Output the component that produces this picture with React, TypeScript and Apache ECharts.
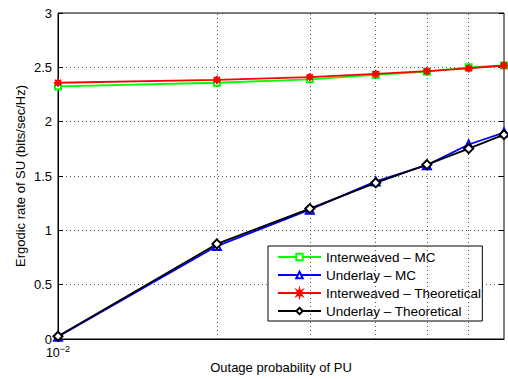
import React, { useEffect, useRef } from "react";
import * as echarts from "echarts";

const outage = [0.01, 0.02, 0.03, 0.04, 0.05, 0.06, 0.07];
const interweavedMC = [2.324, 2.358, 2.39, 2.43, 2.46, 2.5, 2.517];
const underlayMC = [0.02, 0.855, 1.19, 1.45, 1.6, 1.79, 1.9];
const interweavedTh = [2.358, 2.385, 2.41, 2.44, 2.465, 2.49, 2.517];
const underlayTh = [0.025, 0.875, 1.2, 1.437, 1.605, 1.752, 1.88];
const xGridValues = [0.02, 0.03, 0.04, 0.05, 0.06];
const yTicks = { min: 0, max: 3, interval: 0.5 };

const seriesNames = [
  "Interweaved \u2013 MC",
  "Underlay \u2013 MC",
  "Interweaved \u2013 Theoretical",
  "Underlay \u2013 Theoretical",
];

const asterisk =
  "path://M20 10 L13.7 11.53 L17.07 17.07 L11.53 13.7 L10 20 L8.47 13.7 L2.93 17.07 L6.3 11.53 L0 10 L6.3 8.47 L2.93 2.93 L8.47 6.3 L10 0 L11.53 6.3 L17.07 2.93 L13.7 8.47 Z";

const FONT = "Liberation Sans, Arial, Helvetica, sans-serif";
const FS = 13;

export default function App() {
  const ref = useRef<HTMLDivElement>(null);
  useEffect(() => {
    if (!ref.current) return;
    const chart = echarts.init(ref.current, undefined, { renderer: "svg" });
    const pairs = (ys: number[]) => outage.map((x, i) => [x, ys[i]]);
    const mk = (
      name: string,
      ys: number[],
      color: string,
      symbol: string,
      size: number,
      z: number
    ) => ({
      name,
      type: "line",
      data: pairs(ys),
      symbol,
      symbolSize: size,
      z,
      lineStyle: { color, width: 1.8 },
      itemStyle: { color, borderColor: color, borderWidth: 1.5 },
      emphasis: { disabled: true },
    });
    chart.setOption({
      animation: false,
      backgroundColor: "#fff",
      textStyle: { fontFamily: FONT },
      grid: {
        left: 58,
        right: 4,
        top: 13,
        bottom: 39,
        show: true,
        borderColor: "#000",
        borderWidth: 1,
        backgroundColor: "transparent",
      },
      legend: {
        data: seriesNames,
        orient: "vertical",
        left: 268,
        top: 246,
        itemWidth: 43,
        itemHeight: 8,
        itemGap: 4,
        padding: [4, 1, 3, 9],
        backgroundColor: "#fff",
        borderColor: "#000",
        borderWidth: 1,
        borderRadius: 0,
        textStyle: { fontFamily: FONT, fontSize: 13.5, color: "#000" },
        selectedMode: false,
      },
      xAxis: {
        type: "log",
        logBase: 10,
        min: 0.01,
        max: 0.07,
        name: "Outage probability of PU",
        nameLocation: "middle",
        nameGap: 22,
        nameMoveOverlap: false,
        nameTextStyle: { fontFamily: FONT, fontSize: FS, color: "#000" },
        axisLine: { show: true, lineStyle: { color: "#000", width: 1 } },
        axisTick: { show: false },
        splitLine: { show: false },
        axisLabel: {
          margin: 5,
          formatter: (v: number) =>
            Math.abs(v - 0.01) < 1e-9 ? "{b|10}{s|\u22122}" : "",
          rich: {
            b: { fontFamily: FONT, fontSize: 12.5, color: "#000" },
            s: {
              fontFamily: FONT,
              fontSize: 9,
              color: "#000",
              padding: [0, 0, 9, 0],
            },
          },
        },
      },
      yAxis: [
        {
          type: "value",
          ...yTicks,
          name: "Ergodic rate of SU (bits/sec/Hz)",
          nameLocation: "middle",
          nameGap: 31,
          nameMoveOverlap: false,
          nameTextStyle: { fontFamily: FONT, fontSize: FS, color: "#000" },
          axisLine: { show: true, lineStyle: { color: "#000", width: 1 } },
          axisTick: { show: true, inside: true, length: 5, lineStyle: { color: "#000" } },
          axisLabel: { fontFamily: FONT, fontSize: FS, color: "#000", margin: 6 },
          splitLine: {
            show: true,
            lineStyle: { color: "#555", type: [1, 3], width: 1 },
          },
        },
        {
          type: "value",
          ...yTicks,
          position: "right",
          axisLine: { show: false },
          axisTick: { show: true, inside: true, length: 5, lineStyle: { color: "#000" } },
          axisLabel: { show: false },
          splitLine: { show: false },
        },
      ],
      series: [
        {
          name: "grid-x",
          type: "line",
          data: [],
          z: 1,
          silent: true,
          markLine: {
            silent: true,
            symbol: "none",
            label: { show: false },
            lineStyle: { color: "#555", type: [1, 3], width: 1 },
            emphasis: { disabled: true },
            data: xGridValues.map((v) => ({ xAxis: v })),
          },
        },
        mk(seriesNames[0], interweavedMC, "#00ff00", "emptyRect", 6, 3),
        mk(seriesNames[1], underlayMC, "#0000ff", "emptyTriangle", 8, 4),
        mk(seriesNames[2], interweavedTh, "#ff0000", asterisk, 8, 5),
        mk(seriesNames[3], underlayTh, "#000000", "emptyDiamond", 9, 6),
      ],
    });
    return () => chart.dispose();
  }, []);
  return (
    <div
      ref={ref}
      style={{ width: 508, height: 379, position: "absolute", left: 0, top: 0 }}
    />
  );
}
